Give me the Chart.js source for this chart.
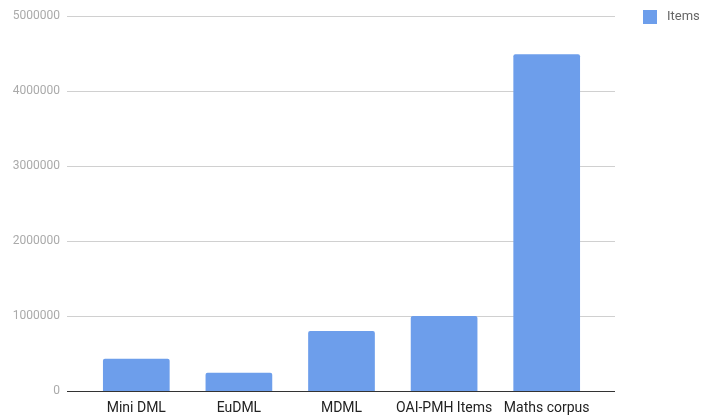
<!DOCTYPE html>
<html>
<head>
<meta charset="utf-8">
<script src="https://cdn.jsdelivr.net/npm/chart.js@4"></script>
<style>
  html, body { margin: 0; padding: 0; background: #fff; }
  #wrap { width: 701px; height: 417px; }
</style>
</head>
<body>
<div id="wrap"><canvas id="chart" width="701" height="417"></canvas></div>
<script>
const categories = ['Mini DML', 'EuDML', 'MDML', 'OAI-PMH Items', 'Maths corpus'];
const items = [430000, 245000, 800000, 1000000, 4490000];
const seriesName = 'Items';

const BAR = '#6d9eeb';

// gridlines reach a bit past the bar area, like the original
const gridLines = {
  id: 'gridLines',
  beforeDatasetsDraw(chart) {
    const { ctx, chartArea, scales: { y } } = chart;
    ctx.save();
    ctx.strokeStyle = '#d0d0d0';
    ctx.lineWidth = 1;
    y.ticks.forEach(t => {
      if (t.value === 0) return;
      const py = Math.round(y.getPixelForValue(t.value)) + 0.5;
      ctx.beginPath();
      ctx.moveTo(chartArea.left - 18, py);
      ctx.lineTo(chartArea.right + 17, py);
      ctx.stroke();
    });
    ctx.restore();
  },
  afterDatasetsDraw(chart) {
    const { ctx, chartArea, scales: { y } } = chart;
    const py = Math.round(y.getPixelForValue(0)) + 0.5;
    ctx.save();
    ctx.strokeStyle = '#333';
    ctx.lineWidth = 1;
    ctx.beginPath();
    ctx.moveTo(chartArea.left - 18, py);
    ctx.lineTo(chartArea.right + 17, py);
    ctx.stroke();
    ctx.restore();
  }
};

const sideLegend = {
  id: 'sideLegend',
  afterDraw(chart) {
    const { ctx, chartArea } = chart;
    const ds = chart.data.datasets[0];
    const x = chartArea.right + 45;
    ctx.save();
    ctx.fillStyle = ds.backgroundColor;
    ctx.fillRect(x, 10, 14, 14);
    ctx.fillStyle = '#666';
    ctx.font = '13px Roboto';
    ctx.textBaseline = 'middle';
    ctx.fillText(ds.label, x + 24, 17);
    ctx.restore();
  }
};

new Chart(document.getElementById('chart'), {
  type: 'bar',
  data: {
    labels: categories,
    datasets: [{
      label: seriesName,
      data: items,
      backgroundColor: BAR,
      borderRadius: 2,
      borderSkipped: 'bottom',
      categoryPercentage: 1,
      barPercentage: 0.65
    }]
  },
  options: {
    responsive: false,
    animation: false,
    layout: { padding: { top: 16, right: 103, bottom: 0, left: 0 } },
    plugins: { legend: { display: false }, tooltip: { enabled: false } },
    scales: {
      x: {
        grid: { display: false, drawTicks: false },
        border: { display: false },
        afterFit(scale) { scale.height = 26; },
        ticks: { color: '#222', font: { family: 'Roboto', size: 14 }, padding: 9, maxRotation: 0 }
      },
      y: {
        min: 0,
        max: 5000000,
        afterFit(scale) { scale.width = 85; scale.paddingTop = 0; scale.paddingBottom = 0; },
        grid: { display: false, drawTicks: false },
        border: { display: false },
        ticks: {
          stepSize: 1000000,
          padding: 25,
          color: '#aaa',
          font: { family: 'Roboto', size: 12 },
          callback: v => String(v)
        }
      }
    }
  },
  plugins: [gridLines, sideLegend]
});
</script>
</body>
</html>
